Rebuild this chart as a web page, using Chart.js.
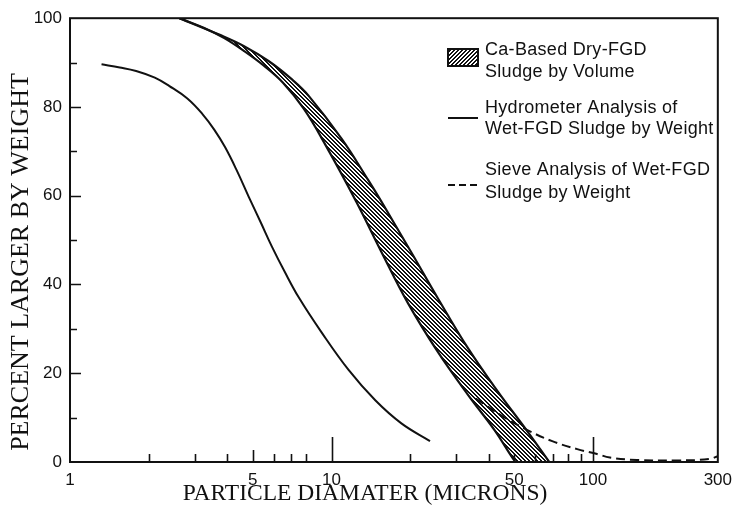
<!DOCTYPE html>
<html>
<head>
<meta charset="utf-8">
<script src="https://cdn.jsdelivr.net/npm/chart.js@4.4.0/dist/chart.umd.min.js"></script>
<style>
  html, body { margin: 0; padding: 0; background: #fff; }
  #wrap { width: 740px; height: 515px; }
</style>
</head>
<body>
<div id="wrap"><canvas id="chartSludge"></canvas></div>
<script>
// Particle size distributions: diameter (microns) vs percent larger
const hydroDiam = [1.32, 1.55, 1.79, 2.11, 2.40, 2.81, 3.21, 3.56, 3.92, 4.35, 4.83, 5.37, 5.91, 6.63, 7.49, 9.16, 11.6, 14.7, 18.5, 23.8];
const hydroPct  = [89.6, 88.9, 88.1, 86.6, 84.7, 81.9, 78.4, 74.9, 70.9, 65.6, 59.7, 53.9, 48.6, 42.8, 37.1, 29.2, 20.8, 13.9, 8.7, 4.7];

// dry-FGD band: upper (coarse) and lower (fine) boundaries
const bandUpperDiam = [2.62, 3.72, 4.63, 5.76, 7.06, 8.18, 10.94, 13.82, 15.54, 20.2, 25.5, 33.2, 43.2, 56.1, 68.0];
const bandUpperPct  = [100, 96.3, 93.7, 90.3, 86.2, 82.5, 72.8, 63.5, 58.6, 47.2, 36.9, 25.7, 15.9, 6.9, 0];
const bandLowerDiam = [2.62, 3.26, 3.89, 4.63, 5.51, 6.51, 7.83, 9.49, 12.45, 15.5, 19.6, 25.5, 33.2, 42.0, 50.5, 51.5, 68.0];
const bandLowerPct  = [100, 97.8, 95.5, 92.6, 89.3, 85.5, 79.6, 71.4, 58.6, 47.4, 35.8, 24.8, 15.2, 7.2, 0, 0, 0];

const sieveDiam = [35.6, 45.1, 56.1, 69.8, 87.0, 103.6, 116, 147, 209, 279, 300];
const sievePct  = [14.3, 10.3, 7.2, 4.7, 2.9, 1.8, 1.0, 0.45, 0.34, 0.67, 1.3];

// axis labels and tick marks
const xLabels = [1, 5, 10, 50, 100, 300];
const xMinorTicks = [2, 3, 4, 6, 7, 8, 20, 30, 40, 50, 60, 70, 80, 90];
const xMidTicks = [5];
const xMajorTicks = [10, 100];
const yMinorTicks = [10, 30, 50, 70, 90];
const yMajorTicks = [20, 40, 60, 80];

const legendLabels = [
    ['Ca-Based Dry-FGD', 'Sludge by Volume'],
    ['Hydrometer Analysis of', 'Wet-FGD Sludge by Weight'],
    ['Sieve Analysis of Wet-FGD', 'Sludge by Weight']
];

const INK = '#111';

function toPoints(xs, ys) {
    return xs.map((x, i) => ({ x: x, y: ys[i] }));
}

// diagonal hatch pattern, dir = 1 for "\\\\", -1 for "////"
function makeHatch(dir) {
    const size = 4;
    const c = document.createElement('canvas');
    c.width = size; c.height = size;
    const g = c.getContext('2d');
    g.fillStyle = '#fff';
    g.fillRect(0, 0, size, size);
    g.fillStyle = INK;
    for (let i = 0; i < size; i++) {
        for (let w = 0; w < 2; w++) {
            const px = dir > 0 ? (i + w) % size : (size - 1 - i + w) % size;
            g.fillRect(px, i, 1, 1);
        }
    }
    return g.createPattern(c, 'repeat');
}

const bandHatch = makeHatch(1);
const legendHatch = makeHatch(-1);

// frame, inward tick marks, axis titles and legend
const decorPlugin = {
    id: 'decor',
    afterDatasetsDraw(chart) {
        const ctx = chart.ctx;
        const a = chart.chartArea;
        const xs = chart.scales.x;
        const ys = chart.scales.y;
        ctx.save();
        ctx.strokeStyle = INK;
        ctx.lineWidth = 2;
        ctx.strokeRect(a.left, a.top, a.right - a.left, a.bottom - a.top);

        ctx.lineWidth = 1.6;
        ctx.beginPath();
        const xTick = (v, len) => {
            const px = Math.round(xs.getPixelForValue(v)) + 0.5;
            ctx.moveTo(px, a.bottom);
            ctx.lineTo(px, a.bottom - len);
        };
        xMinorTicks.forEach(v => xTick(v, 8));
        xMidTicks.forEach(v => xTick(v, 12));
        xMajorTicks.forEach(v => xTick(v, 25));
        const yTick = (v, len) => {
            const py = Math.round(ys.getPixelForValue(v)) + 0.5;
            ctx.moveTo(a.left, py);
            ctx.lineTo(a.left + len, py);
        };
        yMinorTicks.forEach(v => yTick(v, 7));
        yMajorTicks.forEach(v => yTick(v, 11));
        ctx.stroke();
        ctx.restore();
    },
    afterDraw(chart) {
        const ctx = chart.ctx;
        ctx.save();
        ctx.fillStyle = INK;
        ctx.textAlign = 'center';
        ctx.textBaseline = 'middle';
        ctx.font = '23.5px "Liberation Serif"';
        ctx.fillText('PARTICLE DIAMATER (MICRONS)', 365, 494);
        ctx.font = '26px "Liberation Serif"';
        ctx.translate(21, 262);
        ctx.rotate(-Math.PI / 2);
        ctx.fillText('PERCENT LARGER BY WEIGHT', 0, 0);
        ctx.restore();

        // legend
        ctx.save();
        ctx.fillStyle = legendHatch;
        ctx.fillRect(448, 49, 30, 17);
        ctx.strokeStyle = INK;
        ctx.lineWidth = 2;
        ctx.strokeRect(448, 49, 30, 17);

        ctx.beginPath();
        ctx.moveTo(448, 118);
        ctx.lineTo(478, 118);
        ctx.stroke();

        ctx.setLineDash([7, 4]);
        ctx.beginPath();
        ctx.moveTo(448, 185);
        ctx.lineTo(478, 185);
        ctx.stroke();
        ctx.setLineDash([]);

        ctx.fillStyle = INK;
        ctx.font = '18px "Liberation Sans"';
        ctx.letterSpacing = '0.3px';
        ctx.textAlign = 'left';
        ctx.textBaseline = 'middle';
        const rows = [[50, 72], [108, 129], [170, 193]];
        legendLabels.forEach((lines, i) => {
            lines.forEach((t, j) => ctx.fillText(t, 485, rows[i][j]));
        });
        ctx.restore();
    }
};

const canvas = document.getElementById('chartSludge');
const ctx = canvas.getContext('2d');

const lineStyle = { borderColor: INK, fill: false, tension: 0.4 };

const chartSludge = new Chart(ctx, {
    type: 'line',
    data: {
        datasets: [
            Object.assign({}, lineStyle, {
                label: 'Sieve Analysis of Wet-FGD Sludge by Weight',
                data: toPoints(sieveDiam, sievePct),
                borderWidth: 2,
                borderDash: [9, 5]
            }),
            Object.assign({}, lineStyle, {
                label: 'Hydrometer Analysis of Wet-FGD Sludge by Weight',
                data: toPoints(hydroDiam, hydroPct),
                borderWidth: 2
            }),
            Object.assign({}, lineStyle, {
                label: 'Dry-FGD lower bound',
                data: toPoints(bandLowerDiam, bandLowerPct),
                borderWidth: 2.2
            }),
            Object.assign({}, lineStyle, {
                label: 'Ca-Based Dry-FGD Sludge by Volume',
                data: toPoints(bandUpperDiam, bandUpperPct),
                borderWidth: 2.2,
                backgroundColor: bandHatch,
                fill: 2
            })
        ]
    },
    options: {
        responsive: true,
        maintainAspectRatio: false,
        animation: false,
        layout: { padding: { top: 15, right: 18, left: 0, bottom: 0 } },
        elements: { point: { radius: 0 } },
        plugins: {
            legend: { display: false },
            tooltip: { enabled: false }
        },
        scales: {
            x: {
                type: 'logarithmic',
                min: 1,
                max: 300,
                grid: { display: false, drawTicks: false },
                border: { display: false },
                ticks: {
                    autoSkip: false,
                    maxRotation: 0,
                    padding: 8,
                    color: INK,
                    font: { family: 'Liberation Sans', size: 17 },
                    callback: (v) => xLabels.includes(v) ? String(v) : ''
                },
                afterFit: (s) => { s.height = 53; }
            },
            y: {
                min: 0,
                max: 100,
                grid: { display: false, drawTicks: false },
                border: { display: false },
                ticks: {
                    stepSize: 20,
                    padding: 8,
                    color: INK,
                    font: { family: 'Liberation Sans', size: 17 }
                },
                afterFit: (s) => { s.width = 70; }
            }
        }
    },
    plugins: [decorPlugin]
});
</script>
</body>
</html>
